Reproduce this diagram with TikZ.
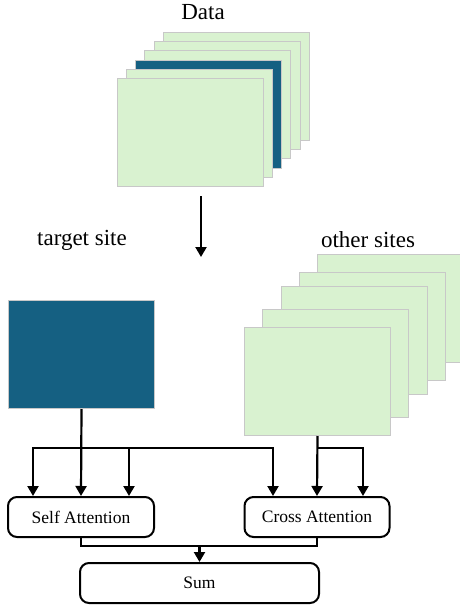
\documentclass[tikz,border=0pt]{standalone}
\usepackage{fontspec}
\setmainfont{Liberation Serif}
\usetikzlibrary{arrows.meta}

\definecolor{sheetgreen}{HTML}{D9F2D0}
\definecolor{sheetblue}{HTML}{156082}
\definecolor{sheetedge}{HTML}{C8C8C8}

\begin{document}
\begin{tikzpicture}[x=1pt,y=-1pt,
  sheet/.style={draw=sheetedge,line width=1pt,fill=sheetgreen,anchor=north west,
    minimum width=146pt,minimum height=108pt,inner sep=0pt},
  darksheet/.style={sheet,fill=sheetblue},
  sitelabel/.style={font=\rmfamily\fontsize{23}{27}\selectfont},
  block/.style={draw,line width=2pt,rounded corners=9pt,minimum height=40pt,
    inner sep=0pt,font=\rmfamily\fontsize{17.5}{21}\selectfont},
  link/.style={line width=2.2pt},
  arr/.style={link,-{Triangle[width=11pt,length=10pt]}}]
\useasboundingbox (0,0) rectangle (460,608);

% input data
\node [sitelabel] (data) at (203,12) {Data};
\node [sheet] (d1) at (163,32) {};
\node [sheet] (d2) at (154,41) {};
\node [sheet] (d3) at (144,50) {};
\node [darksheet] (d4) at (135,60) {};
\node [sheet] (d5) at (126,69) {};
\node [sheet] (d6) at (117,78) {};
\coordinate (dtop) at (201,196);
\coordinate (dbot) at (201,257);
\draw [arr] (dtop) -- (dbot);

% sites
\node [sitelabel] (tlabel) at (82,240) {target site};
\node [sitelabel] (olabel) at (368,240) {other sites};
\node [darksheet] (tgt) at (8,300) {};
\node [sheet] (o5) at (317,254) {};
\node [sheet] (o4) at (299,272) {};
\node [sheet] (o3) at (281,286) {};
\node [sheet] (o2) at (262,309) {};
\node [sheet] (o1) at (244,327) {};

% attention blocks
\node [block,minimum width=146pt] (sa) at (81,517) {Self Attention};
\node [block,minimum width=145pt] (ca) at (317,517) {Cross Attention};
\node [block,minimum width=239pt] (sum) at (199.5,583) {Sum};

\coordinate (tsplit) at (tgt.south |- 0,448);
\coordinate (osplit) at (o1.south |- 0,448);
\draw [arr] (tgt.south) -- (sa.north);
\draw [arr] (tsplit) -| ([xshift=-48pt]sa.north);
\draw [arr] (tsplit) -| ([xshift=48pt]sa.north);
\draw [arr] (tsplit) -| ([xshift=-44pt]ca.north);
\draw [arr] (o1.south) -- (ca.north);
\draw [arr] (osplit) -| ([xshift=46pt]ca.north);

\coordinate (merge) at (sum.north |- 0,546);
\draw [link] (sa.south) |- (merge) -| (ca.south);
\draw [arr] (merge) -- (sum.north);
\end{tikzpicture}
\end{document}
